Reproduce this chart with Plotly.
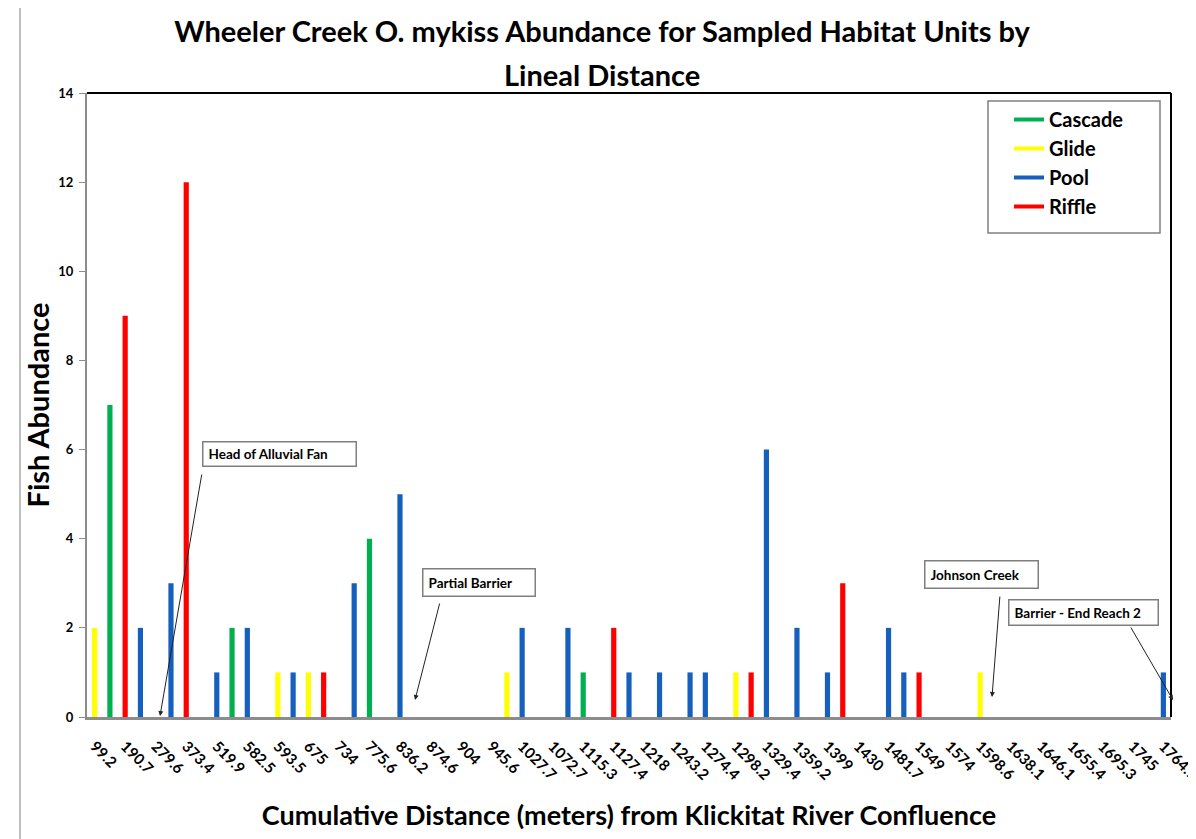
import plotly.graph_objects as go

# ---- data ----
tick_labels = ["99.2", "190.7", "279.6", "373.4", "519.9", "582.5", "593.5", "675", "734",
               "775.6", "836.2", "874.6", "904", "945.6", "1027.7", "1072.7", "1115.3", "1127.4",
               "1218", "1243.2", "1274.4", "1298.2", "1329.4", "1359.2", "1399", "1430", "1481.7",
               "1549", "1574", "1598.6", "1638.1", "1646.1", "1655.4", "1695.3", "1745", "1764.7"]
n_units = 71  # sampled habitat units (category slots); every other one is labelled

cascade_slot = [1, 9, 18, 32]
cascade_val = [7, 2, 4, 1]
glide_slot = [0, 12, 14, 27, 42, 58]
glide_val = [2, 1, 1, 1, 1, 1]
pool_slot = [3, 5, 8, 10, 13, 17, 20, 28, 31, 35, 37, 39, 40, 44, 46, 48, 52, 53, 70]
pool_val = [2, 3, 1, 2, 1, 3, 5, 2, 2, 1, 1, 1, 1, 6, 2, 1, 2, 1, 1]
riffle_slot = [2, 6, 15, 34, 43, 49, 54]
riffle_val = [9, 12, 1, 2, 1, 3, 1]

series = [
    ("Cascade", cascade_slot, cascade_val, "#00B050"),
    ("Glide", glide_slot, glide_val, "#FFFF00"),
    ("Pool", pool_slot, pool_val, "#1560BD"),
    ("Riffle", riffle_slot, riffle_val, "#FF0000"),
]

FONT = "Lato"
fig = go.Figure()
for name, xs, ys, col in series:
    fig.add_trace(go.Bar(x=xs, y=ys, width=0.34, marker=dict(color=col, line=dict(width=0)),
                         name=name, showlegend=False))
for name, xs, ys, col in series:
    fig.add_trace(go.Scatter(x=[None], y=[None], mode="lines", name=name,
                             line=dict(color=col, width=4)))

# page body has an 8px margin: figure is placed at window (8, 8)
OFF = 8
FW, FH = 1196 - OFF, 839 - OFF
PX0, PX1, PY0, PY1 = 87, 1171, 93, 717  # plot area in window pixels
L, T = PX0 - OFF, PY0 - OFF
R, B = FW - (PX1 - OFF), FH - (PY1 - OFF)
pw, ph = PX1 - PX0, PY1 - PY0


def px2paper(px, py):
    return (px - PX0) / pw, (PY1 - py) / ph


def px2data(px, py):
    return (px - PX0) / pw * n_units - 0.5, (PY1 - py) / ph * 14


shapes = []
# plot area top & right borders (black)
shapes.append(dict(type="line", xref="paper", yref="paper", x0=0, x1=1, y0=1, y1=1,
                   line=dict(color="black", width=2)))
shapes.append(dict(type="line", xref="paper", yref="paper", x0=1, x1=1, y0=0, y1=1,
                   line=dict(color="black", width=2)))
# legend box
lx0, ly0 = px2paper(988, 233)
lx1, ly1 = px2paper(1160, 101)
shapes.append(dict(type="rect", xref="paper", yref="paper", x0=lx0, x1=lx1, y0=ly0, y1=ly1,
                   line=dict(color="#808080", width=1.5)))
# chart area border (left edge)
gx, gy = px2paper(20, 8)
_, gy2 = px2paper(20, 839)
shapes.append(dict(type="line", xref="paper", yref="paper", x0=gx, x1=gx, y0=gy2, y1=gy,
                   line=dict(color="#c0c0c0", width=2)))

annotations = []
# second title line
tx, ty = px2paper(602, 74)
annotations.append(dict(text="Lineal Distance", xref="paper", yref="paper", x=tx, y=ty,
                        xanchor="center", yanchor="middle", showarrow=False,
                        font=dict(family=FONT, size=29, color="black", weight="bold")))
# callout boxes: (text, left px, top px, box width, box height)
callouts = [
    ("Head of Alluvial Fan", 202, 441, 155, 26),
    ("Partial Barrier", 422, 568, 114, 29),
    ("Johnson Creek", 924, 560, 115, 29),
    ("Barrier - End Reach 2", 1008, 599, 151, 27),
]
for txt, bxp, byp, bw, bh in callouts:
    x, y = px2paper(bxp, byp)
    annotations.append(dict(text=txt, xref="paper", yref="paper", x=x, y=y,
                            xanchor="left", yanchor="top", showarrow=False, align="left",
                            width=bw - 13, height=bh - 13, borderpad=5, borderwidth=1.5,
                            bordercolor="#7f7f7f", bgcolor="white",
                            font=dict(family=FONT, size=13.5, color="black", weight="bold")))
# arrows: tail px -> head px
arrows = [
    ((202, 473), (160, 716)),
    ((440, 602), (415, 700)),
    ((1000, 595), (992, 697)),
    ((1130, 626), (1173, 700)),
]
for (tx_, ty_), (hx, hy) in arrows:
    ax_, ay_ = px2data(tx_, ty_)
    x_, y_ = px2data(hx, hy)
    annotations.append(dict(text="", x=x_, y=y_, ax=ax_, ay=ay_, xref="x", yref="y",
                            axref="x", ayref="y", showarrow=True, arrowhead=2, arrowsize=1,
                            arrowwidth=1, arrowcolor="#222222", standoff=0))

fig.update_layout(
    width=FW, height=FH,
    margin=dict(l=L, r=R, t=T, b=B, autoexpand=False),
    paper_bgcolor="white", plot_bgcolor="white",
    barmode="overlay",
    title=dict(text="Wheeler Creek O. mykiss Abundance for Sampled Habitat Units by",
               x=(602 - OFF) / FW, xref="container", xanchor="center",
               y=1 - (32 - OFF) / FH, yref="container", yanchor="middle",
               font=dict(family=FONT, size=29, color="black", weight="bold")),
    legend=dict(x=(1009 - PX0) / pw, y=(PY1 - 100) / ph, xanchor="left", yanchor="top",
                bgcolor="rgba(0,0,0,0)", borderwidth=0,
                font=dict(family=FONT, size=20, color="black", weight="bold")),
    shapes=shapes,
    annotations=annotations,
)
fig.update_xaxes(range=[-0.5, n_units - 0.5], tickmode="array",
                 tickvals=list(range(0, n_units, 2)), ticktext=tick_labels,
                 tickangle=45, ticks="", showline=True, linecolor="#8c8c8c", linewidth=2.5,
                 showgrid=False, zeroline=False, ticklabelstandoff=12,
                 ticklabeloverflow="allow",
                 tickfont=dict(family=FONT, size=15, color="black", weight="bold"),
                 title=dict(text="Cumulative Distance (meters) from Klickitat River Confluence",
                            font=dict(family=FONT, size=27, color="black", weight="bold"),
                            standoff=24))
fig.update_yaxes(range=[0, 14], dtick=2, ticks="outside", ticklen=6, tickcolor="#8c8c8c",
                 showline=True, linecolor="#8c8c8c", linewidth=2, showgrid=False,
                 zeroline=False, ticklabelstandoff=3,
                 tickfont=dict(family=FONT, size=13, color="black", weight="bold"),
                 title=dict(text="Fish Abundance",
                            font=dict(family=FONT, size=29, color="black", weight="bold"),
                            standoff=0))

fig.write_html("out.html")
